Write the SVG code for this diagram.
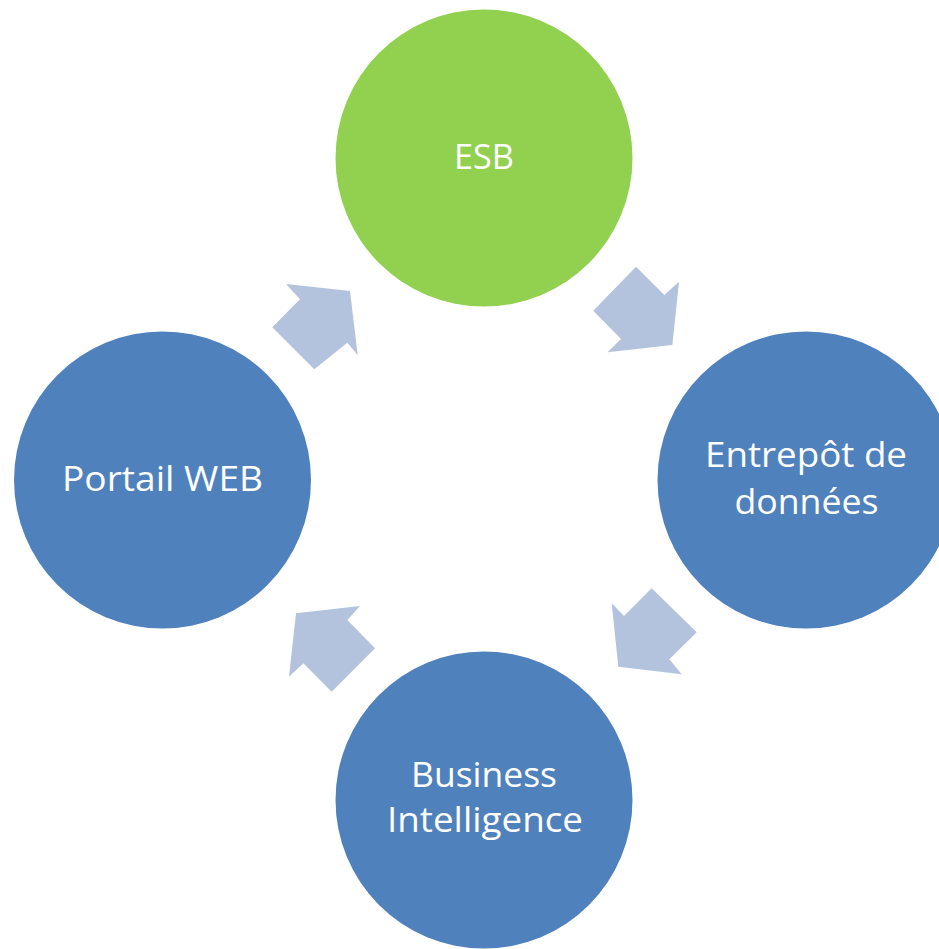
<svg xmlns="http://www.w3.org/2000/svg" width="939" height="949" viewBox="0 0 939 949">
  <style>
    .node { fill: #4F81BD; }
    .node.hub { fill: #92D050; }
    .label { font-family: "Open Sans", "Noto Sans", "Liberation Sans", sans-serif; font-size: 35px; fill: #FFFFFF; text-anchor: middle; }
    .flow { fill: #B3C2DD; }
  </style>
  <rect width="939" height="949" fill="#FFFFFF"/>

  <!-- cycle arrows -->
  <g id="connectors">
    <polygon class="flow" points="286,284 350,291 357.7,355 347.3,342.7 314.3,369.3 272.3,327.3 300,299.3"/>
    <polygon class="flow" points="636,266.7 664.3,295 679,281.7 672.3,345 607.7,352.3 621,339 593.3,310.7"/>
    <polygon class="flow" points="651.7,588.3 696.7,632.3 669.3,659.3 681.7,674.3 618.3,666.7 611.7,603.3 624,616"/>
    <polygon class="flow" points="360,606 347.3,620 375,648.3 331.7,691.7 303.3,663.3 289,676.7 296,613.3"/>
  </g>

  <g id="esb">
    <circle class="node hub" cx="484" cy="158" r="148.5"/>
    <text class="label" x="484" y="169" textLength="60" lengthAdjust="spacingAndGlyphs">ESB</text>
  </g>

  <g id="entrepot">
    <circle class="node" cx="806" cy="480" r="148.5"/>
    <text class="label" x="806" y="467" textLength="202" lengthAdjust="spacingAndGlyphs">Entrepôt de</text>
    <text class="label" x="806.5" y="514" textLength="144" lengthAdjust="spacingAndGlyphs">données</text>
  </g>

  <g id="business-intelligence">
    <circle class="node" cx="484" cy="800" r="148.5"/>
    <text class="label" x="484" y="787" textLength="146" lengthAdjust="spacingAndGlyphs">Business</text>
    <text class="label" x="485" y="832" textLength="196" lengthAdjust="spacingAndGlyphs">Intelligence</text>
  </g>

  <g id="portail-web">
    <circle class="node" cx="162.5" cy="480" r="148.5"/>
    <text class="label" x="162.5" y="491" textLength="201" lengthAdjust="spacingAndGlyphs">Portail WEB</text>
  </g>
</svg>
